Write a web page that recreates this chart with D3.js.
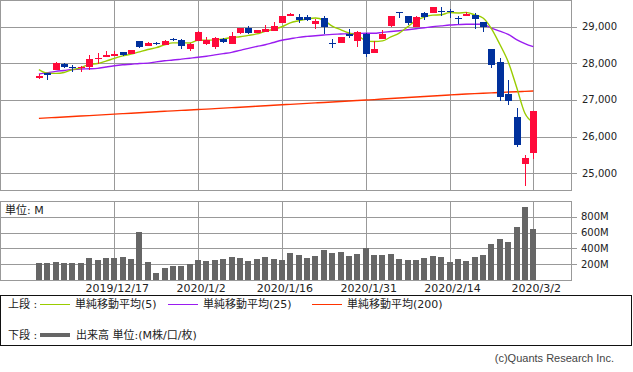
<!DOCTYPE html>
<html>
<head>
<meta charset="utf-8">
<script src="https://cdn.jsdelivr.net/npm/d3@7"></script>
<style>
  body { margin: 0; background: #fff; }
  svg { display: block; font-family: "DejaVu Sans", "Noto Sans CJK JP", sans-serif; }
</style>
</head>
<body>
<div id="wrapper"></div>
<script>
// trading days shown (Dec 4 2019 - Mar 2 2020)
const dates = [
  "2019/12/4","2019/12/5","2019/12/6","2019/12/9","2019/12/10","2019/12/11","2019/12/12","2019/12/13","2019/12/16","2019/12/17",
  "2019/12/18","2019/12/19","2019/12/20","2019/12/23","2019/12/24","2019/12/26","2019/12/27","2019/12/30","2019/12/31","2020/1/2",
  "2020/1/3","2020/1/6","2020/1/7","2020/1/8","2020/1/9","2020/1/10","2020/1/13","2020/1/14","2020/1/15","2020/1/16",
  "2020/1/17","2020/1/21","2020/1/22","2020/1/23","2020/1/24","2020/1/27","2020/1/28","2020/1/29","2020/1/30","2020/1/31",
  "2020/2/3","2020/2/4","2020/2/5","2020/2/6","2020/2/7","2020/2/10","2020/2/11","2020/2/12","2020/2/13","2020/2/14",
  "2020/2/18","2020/2/19","2020/2/20","2020/2/21","2020/2/24","2020/2/25","2020/2/26","2020/2/27","2020/2/28","2020/3/2"
]

const opens = [
  27600, 27730, 27820, 27985, 27900, 27880, 27905, 28110, 28185, 28210,
  28300, 28255, 28609, 28485, 28565, 28510, 28660, 28636, 28395, 28609,
  28530, 28455, 28664, 28527, 28828, 28964, 28828, 28855, 28883, 29109,
  29300, 29265, 29265, 29082, 29238, 28560, 28563, 28809, 28618, 28809,
  28290, 28672, 29019, 29392, 29284, 28983, 29366, 29383, 29436, 29429,
  29245, 29292, 29311, 29120, 28391, 28036, 27161, 26541, 25250, 25557
]
const highs = [
  27710, 27740, 28045, 28000, 27955, 27925, 28225, 28290, 28335, 28340,
  28320, 28377, 28609, 28570, 28575, 28625, 28700, 28660, 28545, 28872,
  28720, 28710, 28690, 28855, 28960, 29010, 28910, 29046, 29128, 29300,
  29374, 29347, 29328, 29202, 29300, 28664, 28725, 28937, 28882, 28815,
  28618, 28910, 29295, 29402, 29290, 29280, 29410, 29550, 29530, 29475,
  29300, 29400, 29366, 29120, 28395, 28137, 27544, 26779, 25495, 26706
]
const lows = [
  27570, 27545, 27815, 27880, 27770, 27765, 27815, 27980, 28180, 28205,
  28210, 28250, 28420, 28480, 28500, 28505, 28600, 28390, 28345, 28600,
  28490, 28400, 28555, 28520, 28800, 28800, 28820, 28850, 28875, 29100,
  29280, 29109, 29170, 28945, 28800, 28426, 28555, 28700, 28454, 28164,
  28285, 28665, 28983, 29230, 29046, 28980, 29183, 29380, 29292, 29246,
  29074, 29280, 28937, 28863, 27880, 26970, 26869, 25713, 24656, 25377
]
const closes = [
  27650, 27678, 28015, 27910, 27882, 27911, 28132, 28135, 28236, 28267,
  28239, 28377, 28455, 28552, 28515, 28621, 28645, 28462, 28538, 28869,
  28635, 28703, 28584, 28745, 28957, 28824, 28907, 28940, 29030, 29298,
  29348, 29196, 29186, 29160, 28990, 28536, 28723, 28734, 28859, 28256,
  28400, 28808, 29291, 29380, 29103, 29277, 29276, 29551, 29423, 29398,
  29232, 29348, 29220, 28992, 27961, 27081, 26958, 25767, 25409, 26703
]

// moving averages
const ma5 = [
  27830, 27733, 27726, 27751, 27827, 27879, 27970, 27994, 28059, 28136,
  28202, 28251, 28315, 28378, 28428, 28504, 28558, 28559, 28557, 28627,
  28630, 28642, 28666, 28707, 28725, 28763, 28803, 28875, 28932, 29000,
  29105, 29162, 29212, 29238, 29176, 29014, 28919, 28829, 28769, 28622,
  28595, 28612, 28723, 28827, 28996, 29172, 29265, 29317, 29326, 29385,
  29376, 29391, 29324, 29238, 28951, 28521, 28042, 27352, 26635, 26384
]
const ma25 = [
  27708, 27745, 27780, 27805, 27830, 27845, 27852, 27862, 27900, 27935,
  27960, 27975, 27995, 28005, 28040, 28070, 28090, 28115, 28140, 28165,
  28195, 28230, 28265, 28300, 28355, 28410, 28460, 28508, 28570, 28630,
  28670, 28710, 28735, 28755, 28775, 28792, 28800, 28809, 28815, 28820,
  28822, 28847, 28868, 28891, 28918, 28945, 28972, 29000, 29023, 29046,
  29056, 29066, 29066, 29066, 28960, 28880, 28790, 28650, 28540, 28454
]
const ma200 = [
  26497, 26510, 26522, 26535, 26548, 26560, 26573, 26586, 26599, 26612,
  26625, 26638, 26651, 26664, 26677, 26690, 26702, 26714, 26726, 26738,
  26750, 26763, 26776, 26789, 26802, 26815, 26828, 26841, 26854, 26867,
  26880, 26893, 26906, 26919, 26932, 26945, 26958, 26971, 26984, 26997,
  27010, 27024, 27038, 27052, 27066, 27080, 27094, 27108, 27122, 27136,
  27150, 27161, 27172, 27183, 27194, 27205, 27215, 27225, 27234, 27243
]

// volume, millions
const volumes = [
  219, 219, 232, 219, 219, 219, 283, 253, 283, 283,
  295, 270, 607, 232, 93, 156, 181, 181, 198, 253,
  245, 257, 270, 295, 283, 245, 270, 295, 270, 257,
  346, 317, 283, 308, 380, 346, 359, 308, 333, 405,
  321, 321, 333, 270, 257, 257, 283, 308, 295, 232,
  270, 245, 295, 321, 460, 523, 485, 675, 928, 650
]

const tickDates = ["2019/12/17", "2020/1/2", "2020/1/16", "2020/1/31", "2020/2/14", "2020/3/2"]
const priceTicks = [25000, 26000, 27000, 28000, 29000]
const volumeTicks = [200, 400, 600, 800]

function drawChart() {

  // 1. Dimensions
  const dimensions = {
    width: 633,
    height: 372,
    plotLeft: 0,
    plotRight: 571,
    price: { top: 0, bottom: 190 },
    volume: { top: 201, bottom: 280 },
  }
  const gridColor = "#999"
  const upColor = "#ff0a3a"
  const downColor = "#00309c"

  const crisp = v => Math.round(v) + 0.5

  // 2. Canvas
  const wrapper = d3.select("#wrapper")
    .append("svg")
      .attr("width", dimensions.width)
      .attr("height", dimensions.height)

  // 3. Scales
  const xScale = d3.scalePoint()
    .domain(dates)
    .range([38.9, 533.3])

  const yScale = d3.scaleLinear()
    .domain([24540, 29730])
    .range([dimensions.price.bottom, dimensions.price.top])

  const volScale = d3.scaleLinear()
    .domain([0, 1000])
    .range([dimensions.volume.bottom, dimensions.volume.top])

  const xAt = d => Math.round(xScale(d))

  // 4. Grids and frames
  const grid = wrapper.append("g")
    .attr("stroke", gridColor)
    .attr("stroke-width", 1)
    .attr("shape-rendering", "crispEdges")

  grid.selectAll(".price-grid")
    .data(priceTicks)
    .enter().append("line")
      .attr("x1", dimensions.plotLeft)
      .attr("x2", dimensions.plotRight + 6)
      .attr("y1", d => crisp(yScale(d)))
      .attr("y2", d => crisp(yScale(d)))

  grid.selectAll(".vol-grid")
    .data(volumeTicks)
    .enter().append("line")
      .attr("x1", dimensions.plotLeft)
      .attr("x2", dimensions.plotRight + 6)
      .attr("y1", d => crisp(volScale(d)))
      .attr("y2", d => crisp(volScale(d)))

  ;[dimensions.price, dimensions.volume].forEach(panel => {
    grid.selectAll(null)
      .data(tickDates)
      .enter().append("line")
        .attr("x1", d => xAt(d) + 0.5)
        .attr("x2", d => xAt(d) + 0.5)
        .attr("y1", panel.top)
        .attr("y2", panel.bottom)

    grid.append("rect")
      .attr("x", 0.5)
      .attr("y", panel.top + 0.5)
      .attr("width", dimensions.plotRight)
      .attr("height", panel.bottom - panel.top)
      .attr("fill", "none")
  })

  // 5. Volume bars
  wrapper.append("g")
    .attr("shape-rendering", "crispEdges")
    .selectAll("rect")
    .data(volumes)
    .enter().append("rect")
      .attr("x", (d, i) => xAt(dates[i]) - 3)
      .attr("y", d => Math.round(volScale(d)))
      .attr("width", 6)
      .attr("height", d => dimensions.volume.bottom - Math.round(volScale(d)))
      .attr("fill", "#666")

  wrapper.append("text")
    .attr("x", 5)
    .attr("y", 214)
    .attr("font-size", 11)
    .attr("fill", "#222")
    .text("単位: M")

  // 6. Moving averages
  const maLine = d3.line()
    .x((d, i) => xScale(dates[i]))
    .y(d => yScale(d))
    .curve(d3.curveMonotoneX)

  const maSeries = [
    { values: ma200, color: "#ff3300" },
    { values: ma25, color: "#9a1cf0" },
    { values: ma5, color: "#9acc00" },
  ]
  wrapper.append("g")
    .selectAll("path")
    .data(maSeries)
    .enter().append("path")
      .attr("d", d => maLine(d.values))
      .attr("fill", "none")
      .attr("stroke", d => d.color)
      .attr("stroke-width", 1.4)

  // 7. Candles
  const candles = wrapper.append("g")
    .attr("shape-rendering", "crispEdges")
    .selectAll("g")
    .data(dates)
    .enter().append("g")
      .attr("fill", (d, i) => closes[i] >= opens[i] ? upColor : downColor)
      .attr("stroke", (d, i) => closes[i] >= opens[i] ? upColor : downColor)

  candles.append("line")
    .attr("x1", d => xAt(d) + 0.5)
    .attr("x2", d => xAt(d) + 0.5)
    .attr("y1", (d, i) => Math.round(yScale(highs[i])))
    .attr("y2", (d, i) => Math.round(yScale(lows[i])))

  candles.append("rect")
    .attr("stroke", "none")
    .attr("x", d => xAt(d) - 3)
    .attr("width", 7)
    .attr("y", (d, i) => Math.round(yScale(Math.max(opens[i], closes[i]))))
    .attr("height", (d, i) => Math.max(1, Math.round(yScale(Math.min(opens[i], closes[i]))) - Math.round(yScale(Math.max(opens[i], closes[i])))))

  // 8. Axis labels
  const labels = wrapper.append("g")
    .attr("fill", "#222")

  labels.selectAll(".price-label")
    .data(priceTicks)
    .enter().append("text")
      .attr("x", 582)
      .attr("y", d => yScale(d))
      .attr("dy", "0.35em")
      .attr("font-size", 10)
      .text(d3.format(","))

  labels.selectAll(".vol-label")
    .data(volumeTicks)
    .enter().append("text")
      .attr("x", 581)
      .attr("y", d => volScale(d))
      .attr("dy", "0.35em")
      .attr("font-size", 10)
      .text(d => d + "M")

  labels.selectAll(".date-label")
    .data(tickDates)
    .enter().append("text")
      .attr("x", d => xScale(d) + 3)
      .attr("y", 288)
      .attr("dy", "0.35em")
      .attr("text-anchor", "middle")
      .attr("font-size", 11)
      .text(d => d)

  // 9. Legend
  const legend = wrapper.append("g")
    .attr("font-size", 11)
    .attr("fill", "#222")

  legend.append("rect")
    .attr("x", 0.5)
    .attr("y", 295.5)
    .attr("width", 631)
    .attr("height", 50)
    .attr("fill", "none")
    .attr("stroke", "#111")
    .attr("shape-rendering", "crispEdges")

  const legendItems = [
    { label: "単純移動平均(5)", color: "#9acc00", x: 40 },
    { label: "単純移動平均(25)", color: "#9a1cf0", x: 168 },
    { label: "単純移動平均(200)", color: "#ff3300", x: 312 },
  ]
  legend.append("text").attr("x", 8).attr("y", 304).attr("dy", "0.35em").text("上段 :")
  legend.selectAll(".ma-key")
    .data(legendItems)
    .enter().append("line")
      .attr("x1", d => d.x)
      .attr("x2", d => d.x + 30)
      .attr("y1", 304.5)
      .attr("y2", 304.5)
      .attr("stroke", d => d.color)
      .attr("stroke-width", 1)
  legend.selectAll(".ma-label")
    .data(legendItems)
    .enter().append("text")
      .attr("x", d => d.x + 35)
      .attr("y", 304)
      .attr("dy", "0.35em")
      .text(d => d.label)

  legend.append("text").attr("x", 8).attr("y", 335).attr("dy", "0.35em").text("下段 :")
  legend.append("line")
    .attr("x1", 40).attr("x2", 70)
    .attr("y1", 335).attr("y2", 335)
    .attr("stroke", "#666")
    .attr("stroke-width", 4)
  legend.append("text").attr("x", 76).attr("y", 335).attr("dy", "0.35em").text("出来高 単位:(M株/口/枚)")

  wrapper.append("text")
    .attr("x", 614)
    .attr("y", 358)
    .attr("dy", "0.35em")
    .attr("text-anchor", "end")
    .attr("font-family", "'Liberation Sans', sans-serif")
    .attr("font-size", 11)
    .attr("fill", "#444")
    .text("(c)Quants Research Inc.")
}
drawChart()
</script>
</body>
</html>
